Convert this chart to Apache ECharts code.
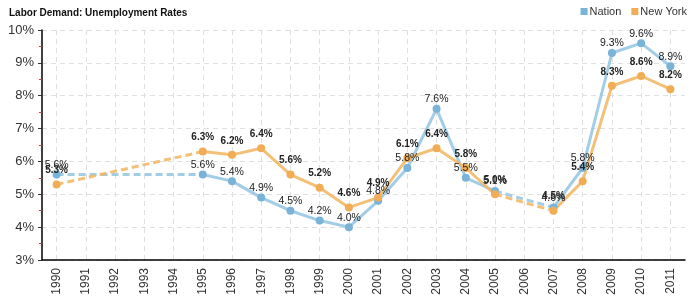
<!DOCTYPE html>
<html><head><meta charset="utf-8">
<script src="https://cdn.jsdelivr.net/npm/echarts@6/dist/echarts.min.js"></script>
<style>html,body{margin:0;padding:0;background:#fff}#c{width:700px;height:300px}</style>
</head><body><div id="c"></div>
<script>
var years = ['1990','1991','1992','1993','1994','1995','1996','1997','1998','1999','2000','2001','2002','2003','2004','2005','2006','2007','2008','2009','2010','2011'];
var nation = [5.6,null,null,null,null,5.6,5.4,4.9,4.5,4.2,4.0,4.8,5.8,7.6,5.5,5.1,null,4.6,5.8,9.3,9.6,8.9];
var newYork = [5.3,null,null,null,null,6.3,6.2,6.4,5.6,5.2,4.6,4.9,6.1,6.4,5.8,5.0,null,4.5,5.4,8.3,8.6,8.2];
var yTicks = [3,4,5,6,7,8,9,10];

var blue = '#92c4e3', blueDot = '#7ab3d8';
var orange = '#f2b560', orangeDot = '#f0ad55';

function gapSegments(arr){
  var segs = [];
  for (var i=0;i<arr.length;i++){
    if (arr[i]===null) continue;
    var j=i+1;
    while (j<arr.length && arr[j]===null) j++;
    if (j<arr.length && j>i+1){
      var d = arr.map(function(){return null;});
      d[i]=arr[i]; d[j]=arr[j];
      segs.push(d);
    }
  }
  return segs;
}
function mkSeries(name, arr, lc, dc, bold, dist, fs){
  var out = [];
  gapSegments(arr).forEach(function(d){
    out.push({name:name,type:'line',data:d,connectNulls:true,symbol:'none',silent:true,
      lineStyle:{color:lc,width:3,type:[7,4],opacity:0.85},itemStyle:{color:dc},z:1});
  });
  out.push({name:name,type:'line',data:arr,connectNulls:false,symbol:'circle',symbolSize:8,
    lineStyle:{color:lc,width:3,opacity:0.85},itemStyle:{color:dc},z:2,
    label:{show:true,position:'top',distance:dist,formatter:function(p){return p.value.toFixed(1)+'%';},
      fontFamily:'Arial, Liberation Sans, sans-serif',fontSize:fs,color:'#222',fontWeight:bold?'bold':'normal'}});
  return out;
}
var series = mkSeries('Nation', nation, blue, blueDot, false, 0, 10.5).concat(mkSeries('New York', newYork, orange, orangeDot, true, 5, 10));

var chart = echarts.init(document.getElementById('c'));
chart.setOption({
  animation:false,
  textStyle:{fontFamily:'Arial, Liberation Sans, sans-serif'},
  title:{text:'Labor Demand: Unemployment Rates',left:4,top:3,textStyle:{fontSize:10,fontWeight:'bold',color:'#111'}},
  legend:{data:[{name:'Nation',itemStyle:{color:blueDot}},{name:'New York',itemStyle:{color:orangeDot}}],right:8,top:1,icon:'rect',itemWidth:7,itemHeight:7,itemGap:10,
    textStyle:{fontSize:11,color:'#333',padding:[0,0,0,-3]}},
  grid:{left:42,right:15,top:30,bottom:40},
  xAxis:{type:'category',data:years,boundaryGap:true,
    axisLine:{lineStyle:{color:'#000',width:1.5}},
    axisTick:{alignWithLabel:true,length:5,lineStyle:{color:'#333'}},
    axisLabel:{rotate:90,fontSize:12,color:'#333',margin:8},
    splitLine:{show:true,alignWithLabel:true,lineStyle:{color:'#e0e0e0',type:[5,4]}}},
  yAxis:{type:'value',min:3,max:10,interval:1,
    axisLine:{show:true,lineStyle:{color:'#000',width:1.5}},
    axisTick:{show:true,length:4,lineStyle:{color:'#333'}},
    minorTick:{show:true,splitNumber:2,length:3,lineStyle:{color:'#e03030'}},
    axisLabel:{fontSize:13,color:'#333',margin:8,formatter:function(v){return yTicks.indexOf(v)>=0? v+'%':'';}},
    splitLine:{show:true,lineStyle:{color:'#e0e0e0',type:[5,4]}}},
  series:series
});
</script></body></html>
